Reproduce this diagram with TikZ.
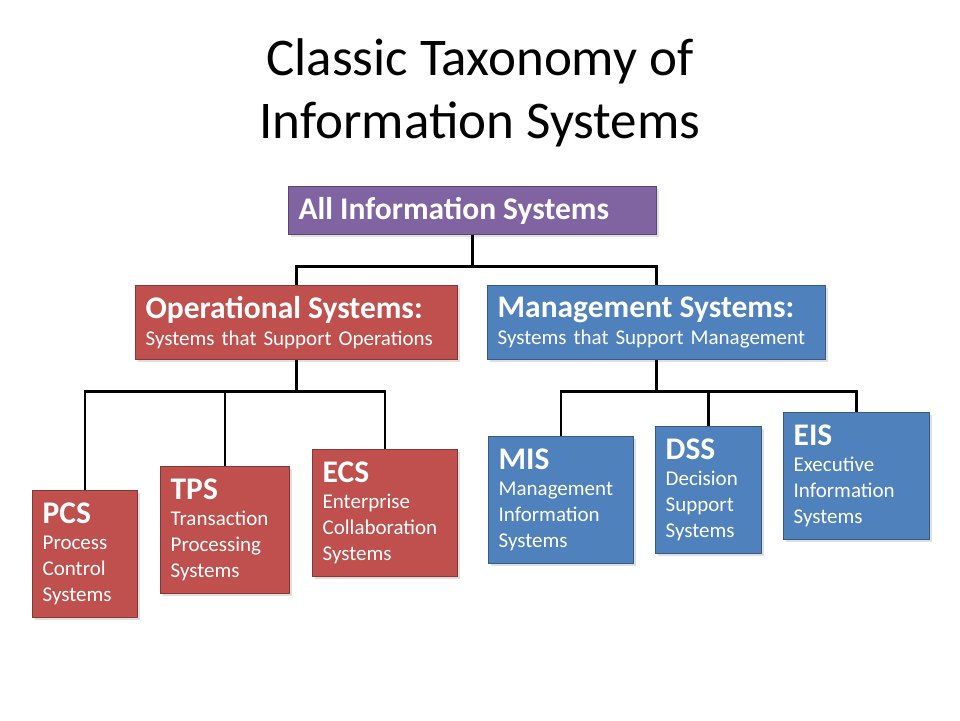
\documentclass[tikz,border=0pt]{standalone}
\usepackage{fontspec}
\setmainfont{Carlito}
\usetikzlibrary{positioning,shadows}
\definecolor{sysviolet}{HTML}{8064A2}
\definecolor{opsred}{HTML}{C0504D}
\definecolor{mgmtblue}{HTML}{4F81BD}
\newcommand{\headfont}{\fontsize{31.5}{32}\selectfont\bfseries}
\newcommand{\subfont}{\fontsize{21}{26}\selectfont}

\begin{document}
\begin{tikzpicture}[x=1pt, y=-1pt,
    sysbox/.style={draw=#1!70!black, fill=#1, line width=1.3pt, anchor=north west, align=left,
        text=white, inner xsep=10pt, inner ysep=3pt, font=\subfont,
        drop shadow={opacity=0.25, shadow xshift=2pt, shadow yshift=-2pt}},
    link/.style={line width=2.6pt, black},
    title/.style={align=center, font=\fontsize{53}{63}\selectfont},
]
\useasboundingbox[fill=white] (0,0) rectangle (960,720);

\node[title] (title) at (480,93) {Classic Taxonomy of\\Information Systems};

\node[sysbox=sysviolet, text width=348pt, minimum height=48pt] (all) at (288,186) {\headfont All Information Systems};

\node[sysbox=opsred, text width=302pt, minimum height=74pt] (ops) at (135,285)
    {{\headfont Operational Systems:}\\[1pt]Systems that Support Operations};
\node[sysbox=mgmtblue, text width=318pt, minimum height=74pt] (mgmt) at (487,285)
    {{\headfont Management Systems:}\\[1pt]Systems that Support Management};

% operational systems
\node[sysbox=opsred, text width=85pt, minimum height=127pt] (pcs) at (32,490)
    {{\headfont PCS}\\Process\\Control\\Systems};
\node[sysbox=opsred, text width=109pt, minimum height=127pt] (tps) at (160,466)
    {{\headfont TPS}\\Transaction\\Processing\\Systems};
\node[sysbox=opsred, text width=125pt, minimum height=127pt] (ecs) at (312,449)
    {{\headfont ECS}\\Enterprise\\Collaboration\\Systems};

% management systems
\node[sysbox=mgmtblue, text width=125pt, minimum height=127pt] (mis) at (488,436)
    {{\headfont MIS}\\Management\\Information\\Systems};
\node[sysbox=mgmtblue, text width=86pt, minimum height=127pt] (dss) at (655,426)
    {{\headfont DSS}\\Decision\\Support\\Systems};
\node[sysbox=mgmtblue, text width=126pt, minimum height=127pt] (eis) at (783,412)
    {{\headfont EIS}\\Executive\\Information\\Systems};

\draw[link] (all.south) -- ++(0,31) coordinate (allj);
\draw[link] (allj) -| (ops.north);
\draw[link] (allj) -| (mgmt.north);

\draw[link] (ops.south) -- ++(0,31) coordinate (opsj);
\draw[link] (opsj) -| (pcs.north);
\draw[link] (opsj) -| (tps.north);
\draw[link] (opsj) -| (ecs.north);

\draw[link] (mgmt.south) -- ++(0,31) coordinate (mgmtj);
\draw[link] (mgmtj) -| (mis.north);
\draw[link] (mgmtj) -| (dss.north);
\draw[link] (mgmtj) -| (eis.north);
\end{tikzpicture}
\end{document}
